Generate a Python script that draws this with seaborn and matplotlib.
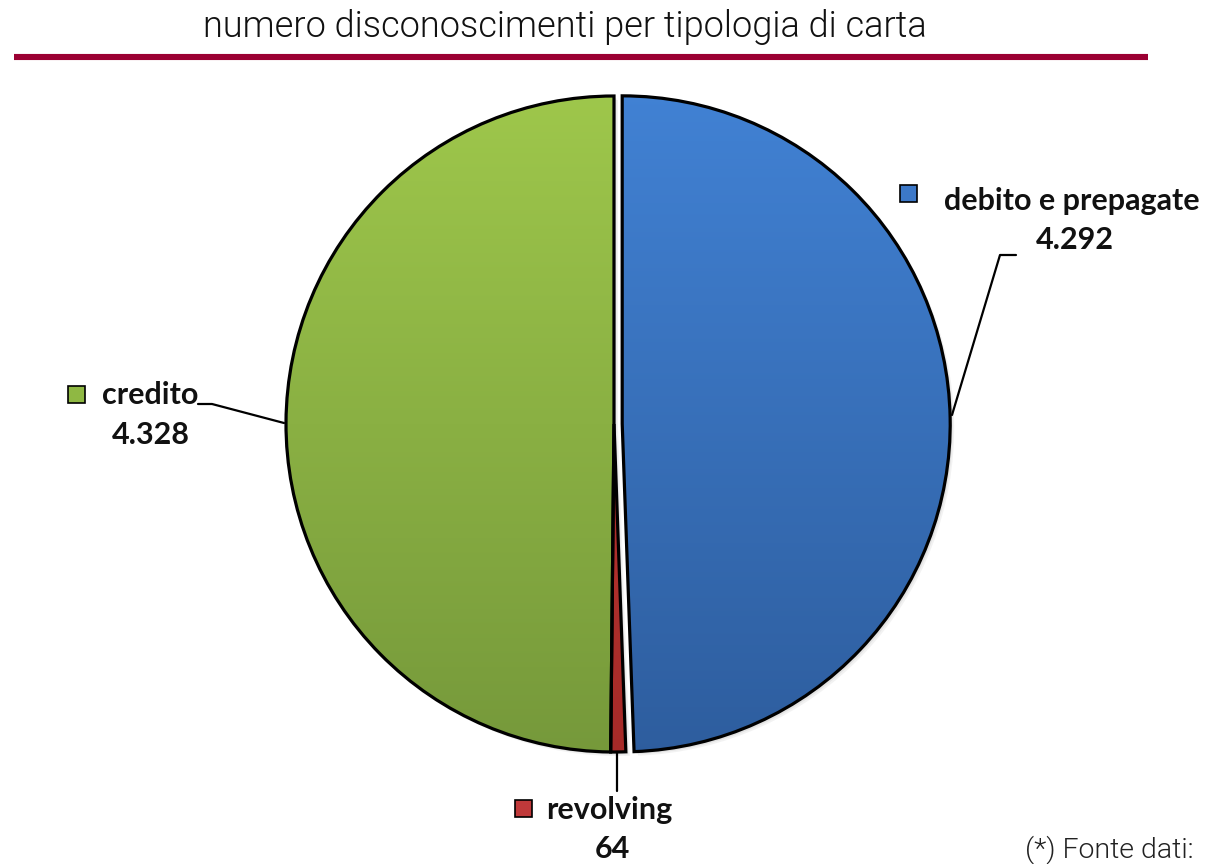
import matplotlib
matplotlib.use("Agg")
import matplotlib.pyplot as plt
import seaborn as sns
import numpy as np
from matplotlib.colors import LinearSegmentedColormap
from matplotlib.patches import Rectangle

# ---- data ----
categories = ["debito e prepagate", "revolving", "credito"]
values = [4292, 64, 4328]
value_labels = ["4.292", "64", "4.328"]
title = "numero disconoscimenti per tipologia di carta"
source = "(*) Fonte dati:"

top_colors = ["#4283d6", "#c43b36", "#a0c94c"]
bot_colors = ["#2d5c9c", "#a52a28", "#74973a"]
key_colors = ["#3c78c8", "#c0393a", "#8fb843"]

sns.set_theme(style="white")
plt.rcParams['font.family'] = ['Lato', 'DejaVu Sans']

W, H = 1214, 864
fig = plt.figure(figsize=(W / 100, H / 100), dpi=100)
ax = fig.add_axes([0, 0, 1, 1])

cx, cy, R = 614, H - 424, 328

# soft shadow
for k, a in [(4, 0.10), (2.5, 0.14)]:
    ax.pie(values, startangle=90, counterclock=False, radius=R,
           center=(cx + k, cy - k), explode=[0.025 * R, 0, 0],
           colors=["#888888"] * 3,
           wedgeprops=dict(edgecolor="none", alpha=a, zorder=1))

wedges, _ = ax.pie(values, startangle=90, counterclock=False, radius=R,
                   center=(cx, cy), explode=[0.025 * R, 0, 0],
                   colors=key_colors,
                   wedgeprops=dict(edgecolor="black", linewidth=2.3))

grad = np.linspace(1, 0, 256).reshape(-1, 1)
for w, tc, bc in zip(wedges, top_colors, bot_colors):
    cmap = LinearSegmentedColormap.from_list("g", [bc, tc])
    im = ax.imshow(grad, extent=[cx - R - 40, cx + R + 40, cy - R - 30, cy + R + 30],
                   cmap=cmap, aspect="auto", origin="upper", zorder=1.5)
    im.set_clip_path(w)
    w.set_facecolor("none")
    w.set_zorder(2)

ax.set_xlim(0, W)
ax.set_ylim(0, H)
ax.set_aspect("auto")
ax.axis("off")

# title + rule
fig.text(565 / W, 1 - 27 / H, title, ha="center", va="center",
         fontsize=26, family=["Roboto", "DejaVu Sans"], fontweight=300, color="#111111")
ax.plot([14, 1148], [H - 57, H - 57], color="#9b0033", lw=4.4, solid_capstyle="butt")

# labels
lab_fs = 22
label_pos = {
    0: dict(key=(900, 202), name=(944, 201), val=(1075, 240)),
    1: dict(key=(515, 817), name=(546, 810), val=(612, 849)),
    2: dict(key=(68, 403), name=(102, 395), val=(151, 435)),
}
for i, cat in enumerate(categories):
    p = label_pos[i]
    kx, ky = p["key"]
    ax.add_patch(Rectangle((kx, H - ky), 17, 17, facecolor=key_colors[i],
                           edgecolor="black", lw=1.2, zorder=3))
    ax.text(p["name"][0], H - p["name"][1], cat, ha="left", va="center",
            fontsize=lab_fs, fontweight="bold", color="#111111")
    ax.text(p["val"][0], H - p["val"][1], value_labels[i], ha="center", va="center",
            fontsize=lab_fs, fontweight="bold", color="#111111")

# leader lines
ax.plot([952, 1000, 1016], [H - 415, H - 255, H - 255], color="black", lw=1.6, zorder=3)
ax.plot([284, 212, 198], [H - 423, H - 404, H - 404], color="black", lw=1.6, zorder=3)
ax.plot([617, 617], [H - 752, H - 791], color="black", lw=1.6, zorder=3)

fig.text(1025 / W, 1 - 850 / H, source, ha="left", va="center", fontsize=20.5,
         family=["Roboto", "DejaVu Sans"], fontweight=300, color="#222222")

fig.savefig("out.png", dpi=100)
